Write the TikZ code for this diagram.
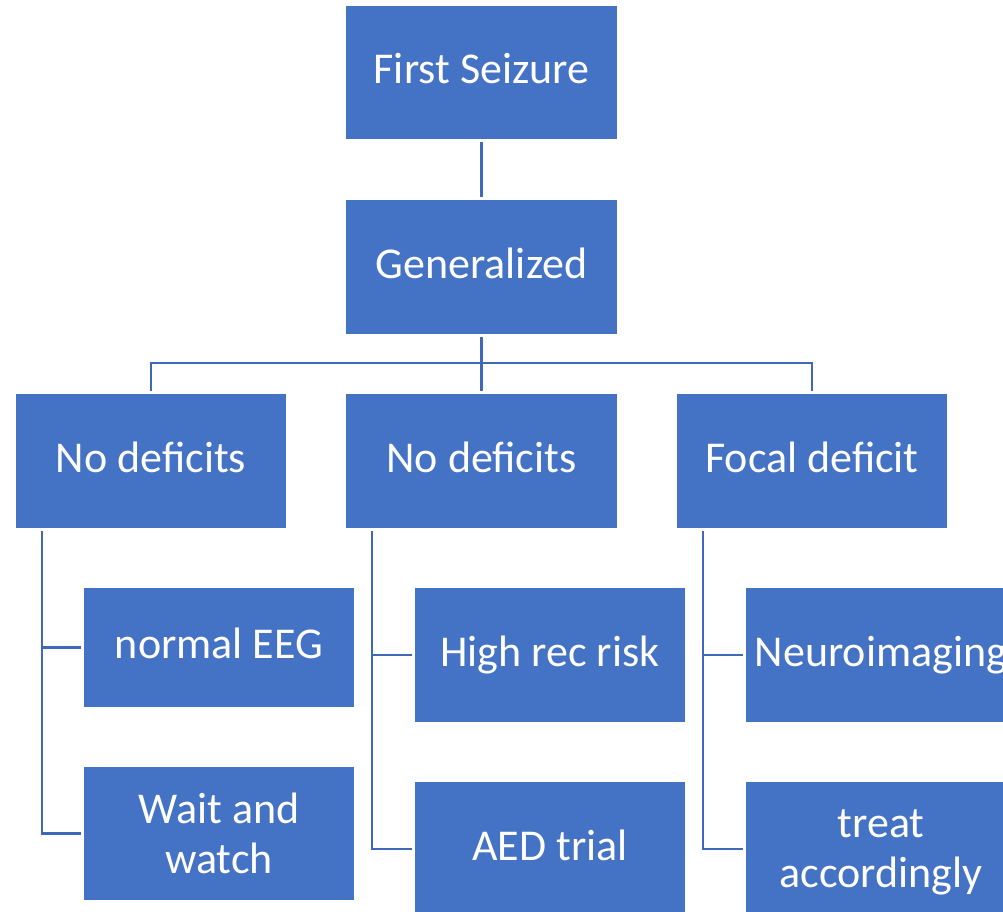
\documentclass[tikz,border=0pt]{standalone}
\usepackage{fontspec}
\setmainfont{Carlito}
\definecolor{boxblue}{HTML}{4472C4}
\definecolor{linkblue}{HTML}{4068B8}
\begin{document}
\begin{tikzpicture}[x=1pt,y=-1pt,
  txt/.style={text=white,inner sep=0pt,align=center,font=\fontsize{44}{50}\selectfont},
  box/.style={txt,fill=boxblue,minimum width=270pt,minimum height=134pt},
  oneline/.style={text height=31pt,text depth=9pt},
  link/.style={draw=linkblue,line width=2.5pt,shorten <=3pt,shorten >=2.5pt}]
\useasboundingbox (0,0) rectangle (1003,911);
\clip (0,0) rectangle (1003,911);
% top levels
\node[box,oneline,minimum width=271pt,minimum height=133pt] (fs) at (481.5,72.5) {First Seizure};
\node[box,oneline,minimum width=271pt] (gen) at (481.5,267) {Generalized};
% branches
\node[box,oneline] (nd1) at (151,461) {No deficits};
\node[box,oneline,minimum width=271pt] (nd2) at (481.5,461) {No deficits};
\node[box,oneline] (fd) at (812,461) {Focal deficit};
% leaves
\node[box,oneline,minimum height=119pt] (eeg) at (219,647.5) {normal EEG};
\node[box,minimum height=133pt] (wait) at (219,833.5) {Wait and\\watch};
\node[box,oneline] (hrr) at (550,655) {High rec risk};
\node[box,oneline] (aed) at (550,849) {AED trial};
\node[box,oneline] (neuro) at (881,655) {Neuroimaging};
\node[box] (treat) at (881,849) {};
\node[txt] (treattext) at ([yshift=-3pt]treat.center) {treat\\accordingly};
% connectors
\coordinate (bus) at (481.5,363);
\draw[link] (fs.south) -- (gen.north);
\draw[link,shorten >=0pt] (gen.south) -- (bus);
\foreach \c in {nd1,nd2,fd}
  \draw[link,shorten <=0pt] (bus) -| (\c.north);
\draw[draw=linkblue,line width=2.5pt] (nd1.north |- bus) -- (fd.north |- bus);
\foreach \p/\a/\b in {nd1/eeg/wait, nd2/hrr/aed, fd/neuro/treat} {
  \draw[link] ([xshift=26pt]\p.south west) |- (\a.west);
  \draw[link] ([xshift=26pt]\p.south west) |- (\b.west);
}
\end{tikzpicture}
\end{document}
